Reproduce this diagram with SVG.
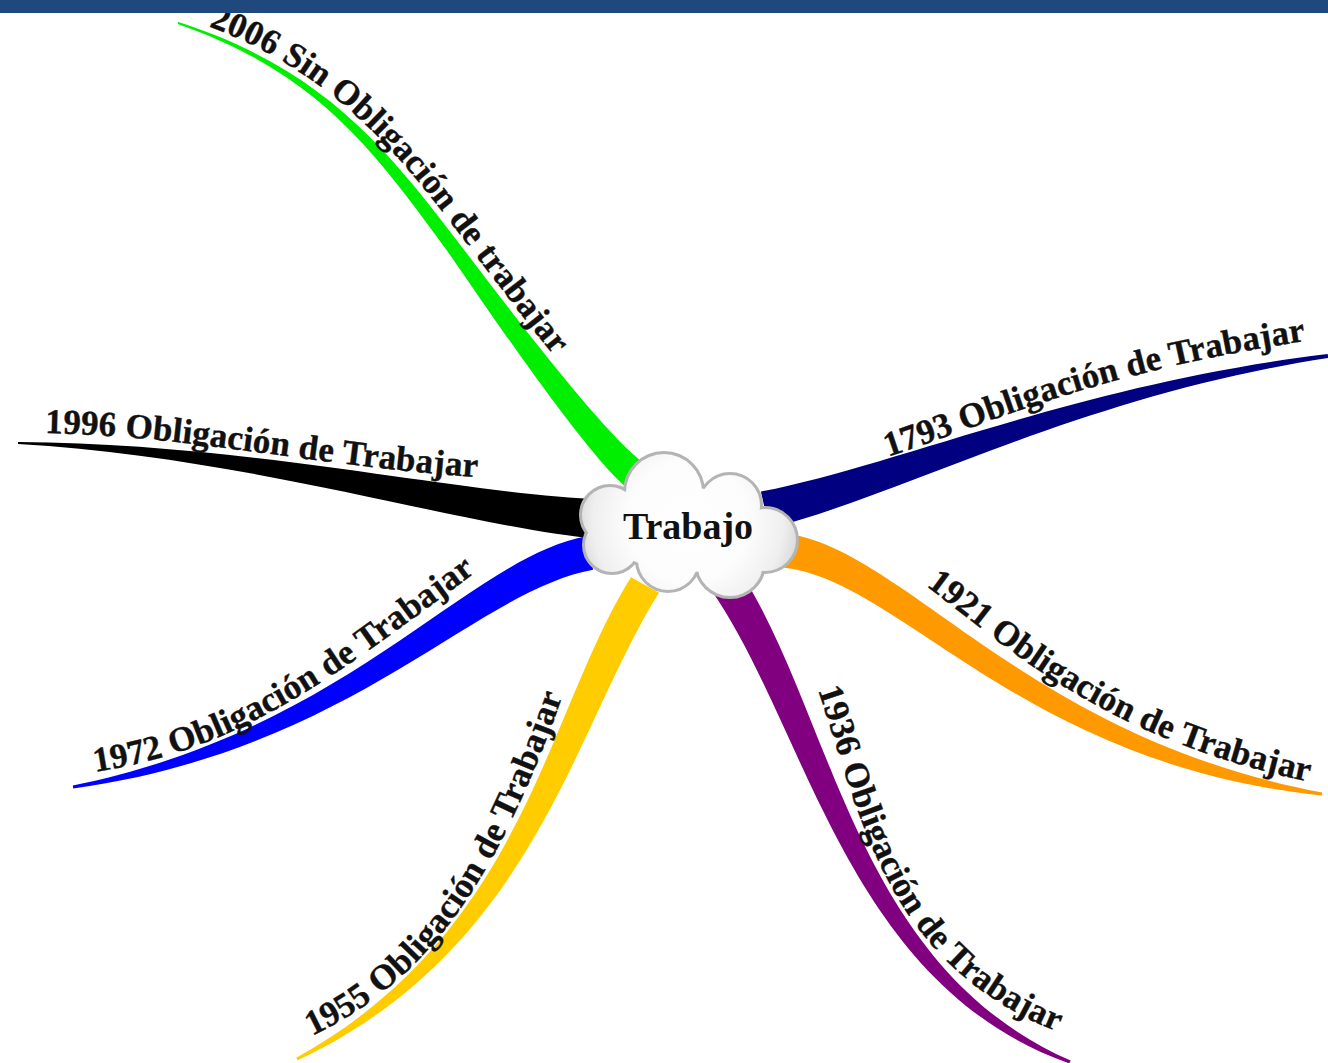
<svg xmlns="http://www.w3.org/2000/svg" width="1328" height="1063" viewBox="0 0 1328 1063">
<style>
.lbl { font-family: "Liberation Serif", "Times New Roman", serif; font-weight: bold; font-size: 35px; letter-spacing: 0.2px; fill: #111; stroke: #111; stroke-width: 0.4; }
.title { font-family: "Liberation Serif", "Times New Roman", serif; font-weight: bold; font-size: 38px; fill: #111; }
.cloud-border { fill: #b4b4b4; stroke: #b4b4b4; stroke-width: 6; }
.cloud-fill { fill: url(#cloudGrad); }
</style>
<defs>
<radialGradient id="cloudGrad" gradientUnits="userSpaceOnUse" cx="688" cy="522" r="112">
<stop offset="0" stop-color="#ffffff"/>
<stop offset="0.55" stop-color="#fcfcfc"/>
<stop offset="0.85" stop-color="#efefef"/>
<stop offset="1" stop-color="#d9d9d9"/>
</radialGradient>
<path id="tp-2006" d="M180.2,16.4 C323.2,61.9 391,143.6 463.4,239.2 C488.1,270.7 601.7,425 650,460"/>
<path id="tp-1996" d="M45,433 C200,436 330,470 520,480"/>
<path id="tp-1793" d="M888,457 C1000,420 1100,370 1326,338"/>
<path id="tp-1972" d="M95,772 C250,748 345,668 495,558"/>
<path id="tp-1955" d="M312,1036 C440,975 505,862 570,675"/>
<path id="tp-1936" d="M818,690 C862,818 885,975 1080,1040"/>
<path id="tp-1921" d="M926,586 C1000,640 1100,742 1326,785"/>
</defs>
<rect width="1328" height="1063" fill="#ffffff"/>

<g id="connectors">
<path id="branch-2006" fill="#00ee00" d="M644.2,463.2 C598,429.7 483.3,274.3 458.6,242.8 C386.2,147.2 321.3,67.6 178.3,22.1 L177.7,23.9 C319.5,73.2 376.6,154.4 447.4,251.2 C470.5,283.9 582,450.3 625.8,486.8 Z"/>
<path id="branch-1996" fill="#000000" d="M601.2,499 C471,496 250.2,443 18,442 L18,444 C249.8,457 469,528 598.8,539 Z"/>
<path id="branch-1793" fill="#000080" d="M760.9,491.5 C896.7,465.4 1079.2,384.1 1327.7,354 L1328.3,358 C1080.8,395.9 903.3,494.6 769.1,528.5 Z"/>
<path id="branch-1972" fill="#0000ff" d="M586.9,536.3 C466.9,558.3 348.3,730.1 72.75,785.5 L73.25,788.5 C351.7,749.9 473.1,591.7 593.1,569.7 Z"/>
<path id="branch-1955" fill="#ffcc00" d="M659,592.8 C574,727.8 534.6,948.9 297.7,1060.3 L296.3,1057.7 C525.4,931.1 546,712.2 631,577.2 Z"/>
<path id="branch-1936" fill="#800080" d="M739.1,570.5 C832.4,711.6 853.7,965.7 1070.6,1060.6 L1069.4,1063.4 C846.3,984.3 807.6,728.4 710.9,589.5 Z"/>
<path id="branch-1921" fill="#ff9900" d="M781.4,533 C901.3,544 1022,736.1 1322.2,792.5 L1321.8,795.5 C1018,763.9 898.7,576 778.6,567 Z"/>
</g>

<g id="node-2006"><text class="lbl"><textPath href="#tp-2006" startOffset="30">2006 Sin Obligación de trabajar</textPath></text></g>
<g id="node-1996"><text class="lbl"><textPath href="#tp-1996">1996 Obligación de Trabajar</textPath></text></g>
<g id="node-1793"><text class="lbl"><textPath href="#tp-1793">1793 Obligación de Trabajar</textPath></text></g>
<g id="node-1972"><text class="lbl"><textPath href="#tp-1972">1972 Obligación de Trabajar</textPath></text></g>
<g id="node-1955"><text class="lbl"><textPath href="#tp-1955">1955 Obligación de Trabajar</textPath></text></g>
<g id="node-1936"><text class="lbl"><textPath href="#tp-1936">1936 Obligación de Trabajar</textPath></text></g>
<g id="node-1921"><text class="lbl"><textPath href="#tp-1921">1921 Obligación de Trabajar</textPath></text></g>

<g id="node-trabajo">
<g class="cloud-border">
<circle cx="664" cy="492" r="38"/>
<circle cx="730" cy="505" r="30"/>
<circle cx="765" cy="540" r="31"/>
<circle cx="730" cy="563" r="33"/>
<circle cx="668" cy="560" r="30"/>
<circle cx="612" cy="545" r="27"/>
<circle cx="610" cy="515" r="28"/>
<ellipse cx="688" cy="530" rx="80" ry="42"/>
</g>
<g class="cloud-fill">
<circle cx="664" cy="492" r="38"/>
<circle cx="730" cy="505" r="30"/>
<circle cx="765" cy="540" r="31"/>
<circle cx="730" cy="563" r="33"/>
<circle cx="668" cy="560" r="30"/>
<circle cx="612" cy="545" r="27"/>
<circle cx="610" cy="515" r="28"/>
<ellipse cx="688" cy="530" rx="80" ry="42"/>
</g>
<text class="title" x="688" y="539" text-anchor="middle">Trabajo</text>
</g>

<rect id="top-bar" x="0" y="0" width="1328" height="13" fill="#1f497d"/>
</svg>
